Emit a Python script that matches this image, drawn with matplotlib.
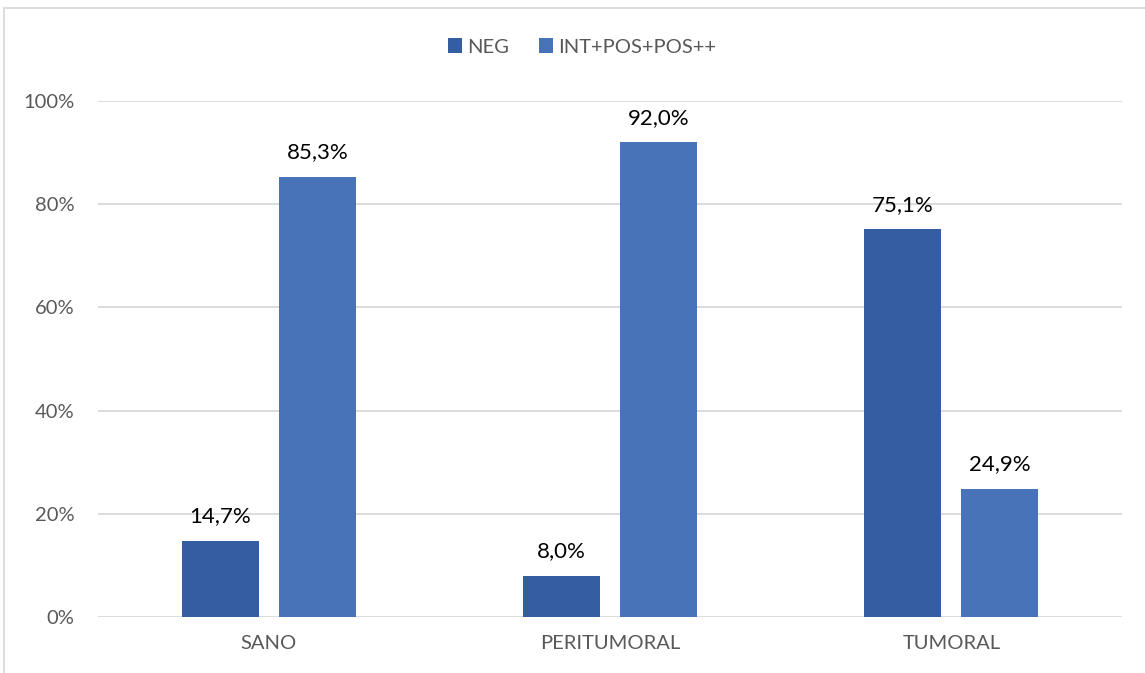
import matplotlib
matplotlib.use("Agg")
import matplotlib.pyplot as plt
import numpy as np
from matplotlib.patches import Rectangle

categories = ["SANO", "PERITUMORAL", "TUMORAL"]
series_names = ["NEG", "INT+POS+POS++"]
neg_values = [14.7, 8.0, 75.1]
pos_values = [85.3, 92.0, 24.9]
y_ticks = [0, 20, 40, 60, 80, 100]

colors = ["#355DA1", "#4873B9"]

plt.rcParams["font.family"] = ["Lato", "DejaVu Sans"]

W, H = 1145, 673
fig = plt.figure(figsize=(W / 100, H / 100), dpi=100)
ax = fig.add_axes([98 / W, 1 - 617 / H, (1122 - 98) / W, (617 - 101) / H])

x = np.arange(len(categories))
bar_w = 0.2256
offset = 0.2847
for vals, name, col, dx in [(neg_values, series_names[0], colors[0], -offset / 2),
                            (pos_values, series_names[1], colors[1], offset / 2)]:
    bars = ax.bar(x + dx, vals, width=bar_w, color=col, label=name, zorder=3)
    for b, v in zip(bars, vals):
        ax.annotate(f"{v:.1f}%".replace(".", ","),
                    xy=(b.get_x() + b.get_width() / 2, v),
                    xytext=(0, 10.5), textcoords="offset points",
                    ha="center", va="bottom", fontsize=16, color="#000000")

ax.set_xlim(-0.5, 2.5)
ax.set_ylim(0, 100)
ax.set_yticks(y_ticks)
ax.set_yticklabels([f"{t}%" for t in y_ticks], fontsize=14.5, color="#595959")
ax.set_xticks(x)
ax.set_xticklabels(categories, fontsize=14.5, color="#595959")
ax.tick_params(axis="both", length=0)
ax.tick_params(axis="y", pad=17)
ax.tick_params(axis="x", pad=13)
ax.grid(axis="y", color="#D9D9D9", linewidth=1.3, zorder=0)
for s in ax.spines.values():
    s.set_visible(False)

leg = fig.legend(loc="center", bbox_to_anchor=(582 / W, 1 - 47 / H), ncol=2,
                 frameon=False, fontsize=14.5, handlelength=0.7, handleheight=0.7,
                 handletextpad=0.25, columnspacing=1.5)
for t in leg.get_texts():
    t.set_color("#595959")

# chart frame
fig.patches.append(Rectangle((4 / W, -0.05), 1.2, 1 - 8 / H + 0.05,
                             transform=fig.transFigure, fill=False,
                             edgecolor="#D9D9D9", linewidth=1.3))

fig.savefig("out.png", dpi=100, facecolor="white")
